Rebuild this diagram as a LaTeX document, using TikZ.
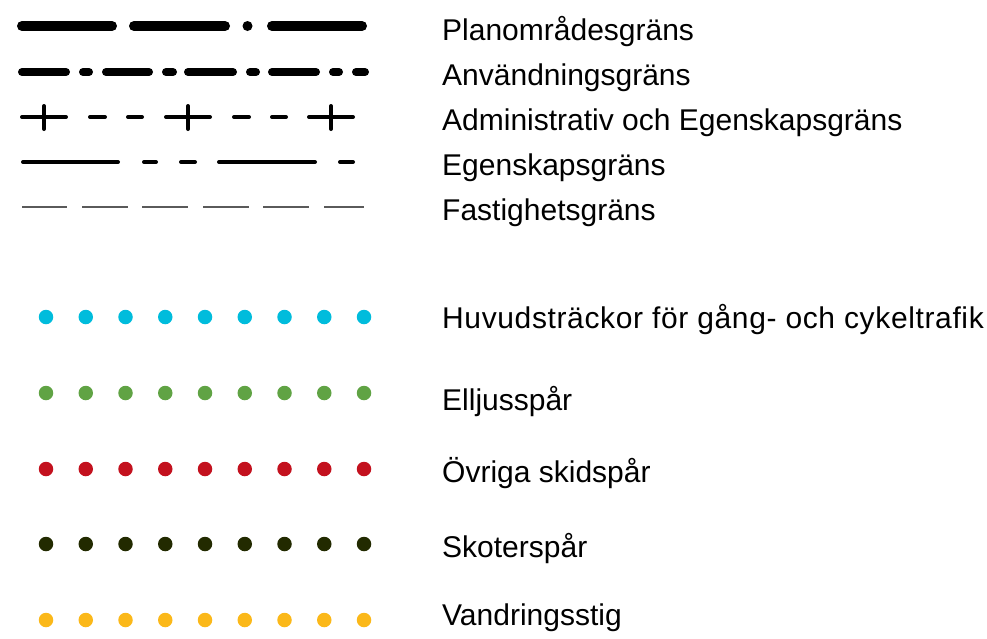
\documentclass[tikz,border=0pt]{standalone}
\usepackage{fontspec}
\setmainfont{Liberation Sans}
\definecolor{cyanc}{RGB}{0,188,220}
\definecolor{greenc}{RGB}{96,163,68}
\definecolor{redc}{RGB}{195,17,30}
\definecolor{darkc}{RGB}{34,42,0}
\definecolor{yellowc}{RGB}{251,184,25}
\definecolor{thingray}{RGB}{90,90,90}
\tikzset{
  lbl/.style={anchor=base west, inner sep=0pt, font=\fontsize{30}{34}\selectfont},
  planline/.style={line width=10pt, line cap=round},
  anvline/.style={line width=8pt, line cap=round},
  admline/.style={line width=4pt, line cap=round},
  egline/.style={line width=4pt, line cap=round},
  fastline/.style={line width=1.2pt, thingray},
  dotc/.style={circle, inner sep=0pt, minimum size=14.5pt}
}
\begin{document}
\begin{tikzpicture}[x=1pt,y=-1pt]
\useasboundingbox (0,0) rectangle (987,638);
% Planomradesgrans
\draw[planline] (22,26) -- (112,26);
\draw[planline] (134,26) -- (225,26);
\draw[planline] (247.5,26) -- (247.5,26);
\draw[planline] (272,26) -- (362,26);
% Anvandningsgrans
\foreach \a/\b in {22/66,83/89,106/149,166/173,188/233,250/256,272/316,333/339,356/365}
  \draw[anvline] (\a,72) -- (\b,72);
% Administrativ och Egenskapsgrans
\foreach \cx in {44,188,331}{
  \draw[admline] (\cx-22,117) -- (\cx+22,117);
  \draw[admline] (\cx,106) -- (\cx,129);
}
\foreach \a/\b in {90/105,128/142,234/249,272/286}
  \draw[admline] (\a,117) -- (\b,117);
% Egenskapsgrans
\foreach \a/\b in {23/118,144/156,181/195,219/315,340/353}
  \draw[egline] (\a,162) -- (\b,162);
% Fastighetsgrans
\foreach \a/\b in {22/67,82/128,142/188,203/249,263/309,324/364}
  \draw[fastline] (\a,207) -- (\b,207);
% dots
\foreach \y/\c in {317/cyanc,393/greenc,469/redc,544/darkc,620/yellowc}{
  \foreach \i in {0,...,8}
    \node[dotc, fill=\c] at (46+39.75*\i,\y) {};
}
% labels
\node[lbl] (t1) at (442,40.5) {Planområdesgräns};
\node[lbl] (t2) at (442,85.5) {Användningsgräns};
\node[lbl] (t3) at (442,130.5) {Administrativ och Egenskapsgräns};
\node[lbl] (t4) at (442,175.5) {Egenskapsgräns};
\node[lbl] (t5) at (442,220.5) {Fastighetsgräns};
\node[lbl] (t6) at (442,328) {\addfontfeature{LetterSpace=2.1}Huvudsträckor för gång- och cykeltrafik};
\node[lbl] (t7) at (442,410.5) {Elljusspår};
\node[lbl] (t8) at (442,482.5) {Övriga skidspår};
\node[lbl] (t9) at (442,557) {Skoterspår};
\node[lbl] (t10) at (442,625) {Vandringsstig};
\end{tikzpicture}
\end{document}
